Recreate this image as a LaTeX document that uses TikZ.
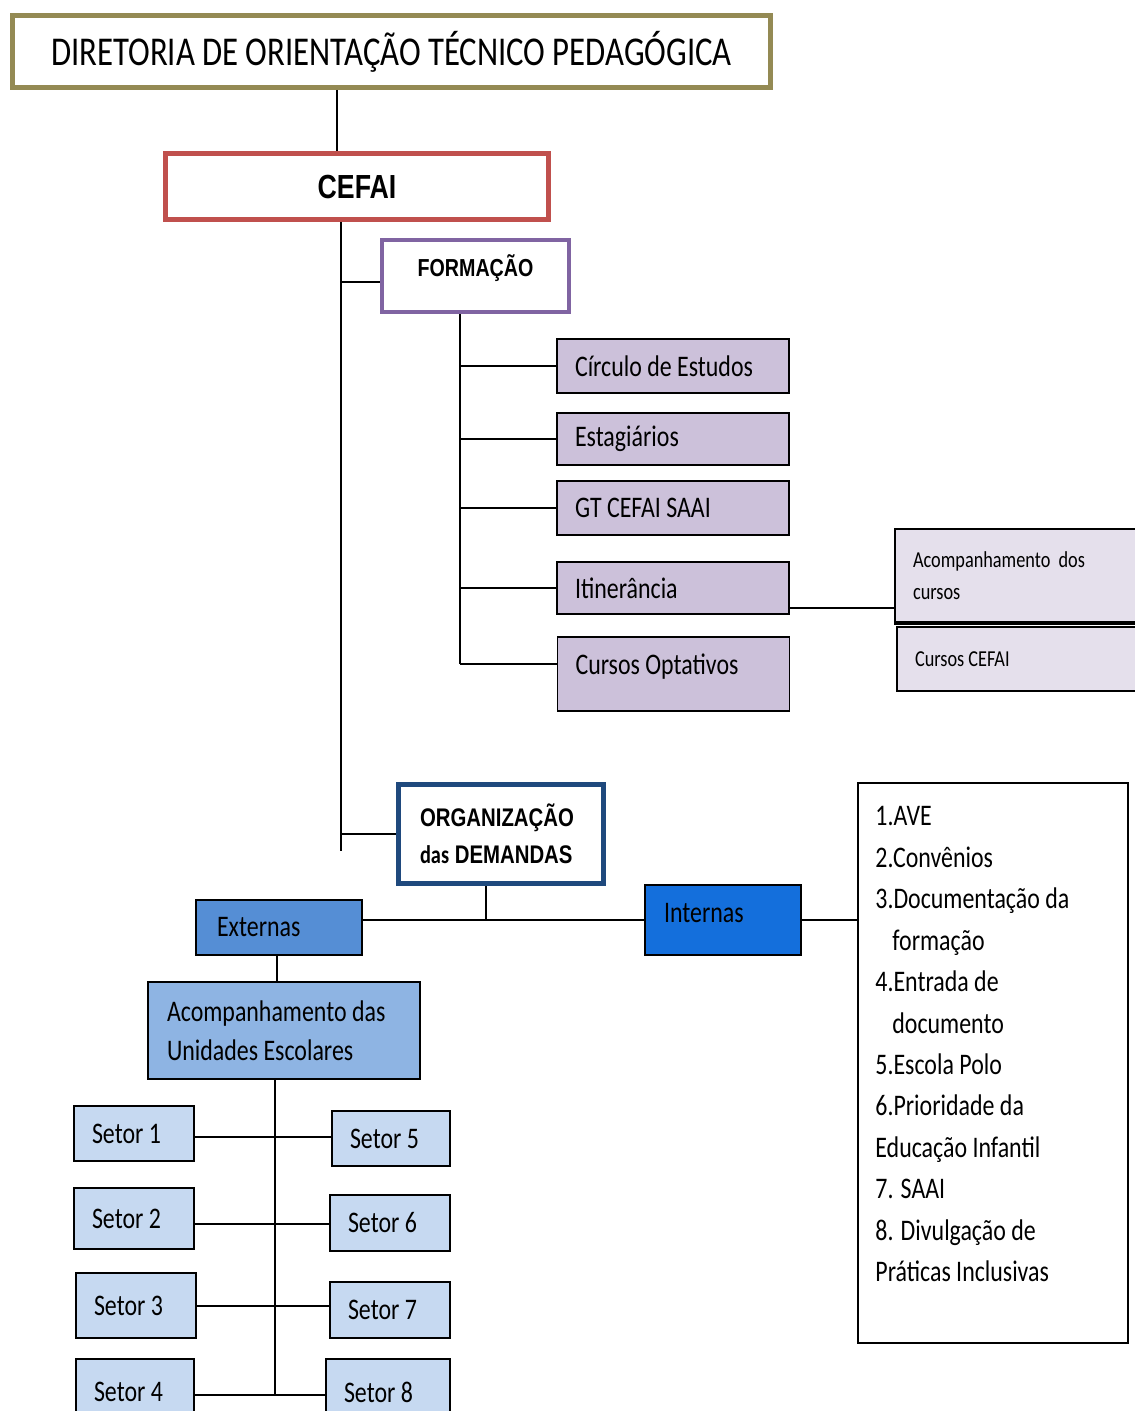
\documentclass[tikz,border=0pt]{standalone}
\usepackage{fontspec}
\setmainfont{Carlito}[FakeStretch=0.8]
\newfontfamily\titulofont{Liberation Sans}[FakeStretch=0.8]
\usepackage{xcolor}

\definecolor{oliva}{HTML}{948A54}
\definecolor{vermelho}{HTML}{C0504D}
\definecolor{roxo}{HTML}{8064A2}
\definecolor{lilas}{HTML}{CCC1DA}
\definecolor{lilasclaro}{HTML}{E5E0EC}
\definecolor{azulescuro}{HTML}{1F497D}
\definecolor{azulmedio}{HTML}{558ED5}
\definecolor{azulforte}{HTML}{146FDC}
\definecolor{azulclaro}{HTML}{8EB4E3}
\definecolor{azulsetor}{HTML}{C6D9F1}

\tikzset{
    ligacao/.style={line width=1pt},
    moldura/.style={draw, fill=white, inner sep=0pt, align=center},
    caixa/.style={draw, line width=1.1pt, inner xsep=0.36cm, inner ysep=0pt, align=left,
        font=\fontsize{17}{22}\selectfont, execute at begin node={\spaceskip=0pt\xspaceskip=0pt\relax}},
    sub/.style={caixa, fill=lilas, text width=3.92cm, minimum height=1.08cm},
    setor/.style={caixa, fill=azulsetor, text width=1.68cm, minimum height=1.12cm},
}

\begin{document}
\begin{tikzpicture}[x=0.02cm, y=-0.02cm]
    \useasboundingbox (0,0) rectangle (1134,1411);

    % topo
    \node[moldura, draw=oliva, line width=2.8pt, minimum width=15.16cm, minimum height=1.44cm,
        font=\fontsize{23.3}{28}\selectfont] (diretoria) at (391.5,51.5) {DIRETORIA DE ORIENTAÇÃO TÉCNICO PEDAGÓGICA};
    \node[moldura, draw=vermelho, line width=2.8pt, minimum width=7.66cm, minimum height=1.32cm,
        font=\titulofont\bfseries\fontsize{19}{22}\selectfont] (cefai) at (357,186.5) {CEFAI};
    \node[moldura, draw=roxo, line width=2.3pt, minimum width=3.74cm, minimum height=1.44cm,
        text height=0.4cm, text depth=0.4cm,
        font=\titulofont\bfseries\fontsize{14}{17}\selectfont] (formacao) at (475.5,276) {FORMAÇÃO};

    % formacao
    \node[sub] (circulo) at (673,366) {Círculo de Estudos};
    \node[sub, minimum height=1.04cm] (estagio) at (673,439) {Estagiários};
    \node[sub] (gt) at (673,508) {GT CEFAI SAAI};
    \node[sub, minimum height=1.04cm] (itinerancia) at (673,588) {Itinerância};
    \node[sub, minimum height=1.48cm, text height=0.45cm, text depth=0.45cm] (optativos) at (673.5,674) {Cursos Optativos};

    \node[caixa, fill=lilasclaro, text width=4.28cm, minimum height=1.86cm,
        font=\fontsize{13}{18}\selectfont] (acompcursos) at (1020,575.5) {Acompanhamento~~dos\\cursos};
    \draw[line width=2pt] (acompcursos.south west) -- (acompcursos.south east);
    \node[caixa, fill=lilasclaro, text width=4.24cm, minimum height=1.28cm,
        font=\fontsize{13}{18}\selectfont] (cursoscefai) at (1021,659) {Cursos CEFAI};

    % organizacao
    \node[caixa, fill=white, draw=azulescuro, line width=2.8pt, inner xsep=0.43cm, text width=3.24cm,
        minimum height=1.98cm, font=\titulofont\bfseries\fontsize{14.5}{21}\selectfont]
        (organizacao) at (501,834) {ORGANIZAÇÃO\\{\normalfont\bfseries das} DEMANDAS};
    \node[caixa, fill=azulmedio, inner xsep=0.42cm, text width=2.48cm, minimum height=1.1cm] (externas) at (279,927.5) {Externas};
    \node[caixa, fill=azulforte, inner xsep=0.38cm, text width=2.36cm, minimum height=1.4cm,
        text height=0.4cm, text depth=0.3cm] (internas) at (723,920) {Internas};
    \node[caixa, fill=azulclaro, inner xsep=0.38cm, text width=4.68cm, minimum height=1.94cm] (acompanhamento) at (284,1030.5) {Acompanhamento das\\Unidades Escolares};

    \node[draw, line width=1.1pt, minimum width=5.4cm, minimum height=11.2cm, inner sep=0pt] (lista) at (993,1063) {};
    \node[anchor=north west, inner sep=0pt, align=left, font=\fontsize{17}{23.6}\selectfont,
        execute at begin node={\spaceskip=0pt\xspaceskip=0pt\relax}]
        (itens) at ([shift={(18,24)}]lista.north west)
        {1.AVE\\2.Convênios\\3.Documentação da\\\hspace*{0.34cm}formação\\4.Entrada de\\\hspace*{0.34cm}documento\\5.Escola Polo\\6.Prioridade da\\Educação Infantil\\7. SAAI\\8. Divulgação de\\Práticas Inclusivas};

    % setores
    \node[setor, minimum height=1.1cm] (setor1) at (134,1133.5) {Setor 1};
    \node[setor, minimum height=1.22cm] (setor2) at (134,1218.5) {Setor 2};
    \node[setor, minimum height=1.3cm] (setor3) at (136,1305.5) {Setor 3};
    \node[setor, minimum height=1.32cm, text width=1.64cm] (setor4) at (135,1392) {Setor 4};
    \node[setor, minimum height=1.1cm, text width=1.64cm] (setor5) at (391,1138.5) {Setor 5};
    \node[setor] (setor6) at (390,1223) {Setor 6};
    \node[setor] (setor7) at (390,1310) {Setor 7};
    \node[setor, minimum height=1.32cm, text width=1.76cm] (setor8) at (388,1392) {Setor 8};

    % ligacoes
    \coordinate (xtopo) at (337,0);
    \coordinate (xcefai) at (341,851);
    \coordinate (xform) at (460,664);
    \coordinate (xorg) at (486,0);
    \coordinate (xacomp) at (275,1395);
    \coordinate (yitin) at (0,608);

    \draw[ligacao] (diretoria.south -| xtopo) -- (cefai.north -| xtopo);
    \draw[ligacao] (cefai.south -| xcefai) -- (xcefai);
    \draw[ligacao] (xcefai |- 0,282) -- (formacao.west |- 0,282);
    \draw[ligacao] (xcefai |- organizacao.west) -- (organizacao.west);
    \draw[ligacao] (formacao.south -| xform) -- (xform);
    \foreach \n in {circulo,estagio,gt,itinerancia}
        \draw[ligacao] (xform |- \n.west) -- (\n.west);
    \draw[ligacao] (xform) -- (optativos.west |- xform);
    \draw[ligacao] (itinerancia.east |- yitin) -- (acompcursos.west |- yitin);

    \draw[ligacao] (organizacao.south -| xorg) -- (xorg |- internas.west) -- (externas.east |- internas.west);
    \draw[ligacao] (xorg |- internas.west) -- (internas.west);
    \draw[ligacao] (internas.east) -- (lista.west |- internas.east);
    \draw[ligacao] (externas.south -| 277,0) -- (acompanhamento.north -| 277,0);
    \draw[ligacao] (acompanhamento.south -| xacomp) -- (xacomp);
    \foreach \a/\b/\yy in {setor1/setor5/1137, setor2/setor6/1224, setor3/setor7/1306, setor4/setor8/1395}
        \draw[ligacao] (\a.east |- 0,\yy) -- (\b.west |- 0,\yy);

\end{tikzpicture}
\end{document}
